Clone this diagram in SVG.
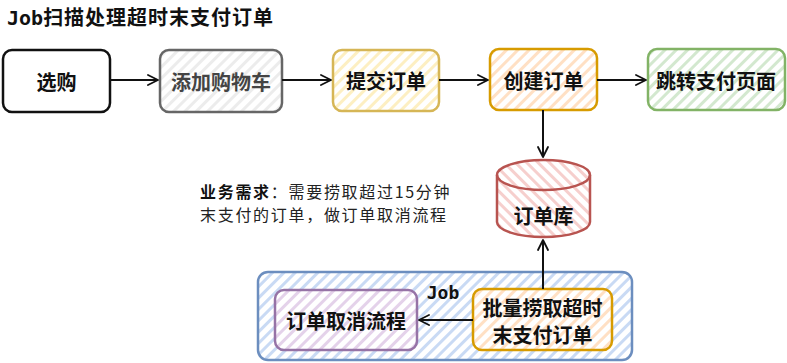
<svg xmlns="http://www.w3.org/2000/svg" width="787" height="363" viewBox="0 0 787 363">
<style>
.t{font-family:"Noto Sans CJK SC","Noto Sans",sans-serif;font-weight:bold;font-size:20px;fill:#111;text-anchor:middle;dominant-baseline:central}
.m{font-family:"DejaVu Sans Mono","Liberation Mono",monospace;font-weight:bold}
.d{font-family:"Noto Sans CJK SC","Noto Sans",sans-serif;font-size:16px;letter-spacing:1.7px;fill:#222}
.box{stroke-width:2.5;stroke-linejoin:round}
.c{fill:none;stroke:#111;stroke-width:2}
</style>
<defs>
<pattern id="hg" width="8" height="8" patternUnits="userSpaceOnUse" patternTransform="rotate(45)"><rect width="3" height="8" fill="#ececec"/></pattern>
<pattern id="hy" width="8" height="8" patternUnits="userSpaceOnUse" patternTransform="rotate(45)"><rect width="3" height="8" fill="#fdefc2"/></pattern>
<pattern id="ho" width="8" height="8" patternUnits="userSpaceOnUse" patternTransform="rotate(45)"><rect width="3" height="8" fill="#ffe0c4"/></pattern>
<pattern id="hgr" width="8" height="8" patternUnits="userSpaceOnUse" patternTransform="rotate(45)"><rect width="3" height="8" fill="#d3e8cf"/></pattern>
<pattern id="hr" width="8" height="8" patternUnits="userSpaceOnUse" patternTransform="rotate(-45)"><rect width="3" height="8" fill="#f6cfcd"/></pattern>
<pattern id="hb" width="8" height="8" patternUnits="userSpaceOnUse" patternTransform="rotate(45)"><rect width="3" height="8" fill="#c9daf4"/></pattern>
<pattern id="hp" width="8" height="8" patternUnits="userSpaceOnUse" patternTransform="rotate(45)"><rect width="3" height="8" fill="#e4d2ea"/></pattern>
<marker id="arr" viewBox="0 0 12 12" refX="11" refY="6" markerWidth="12" markerHeight="12" markerUnits="userSpaceOnUse" orient="auto"><path d="M1,1 L11,6 L1,11" fill="none" stroke="#111" stroke-width="1.8" stroke-linecap="round" stroke-linejoin="round"/></marker>
</defs>
<rect width="787" height="363" fill="#fff"/>
<text x="7" y="25" font-size="20" fill="#111"><tspan class="m">Job</tspan><tspan font-family="Noto Sans CJK SC,sans-serif" font-weight="bold" letter-spacing="1">扫描处理超时末支付订单</tspan></text>

<g id="job">
<rect class="box" x="258" y="272" width="374" height="88" rx="10" fill="url(#hb)" stroke="#6c8ebf"/>
<text class="m" x="443" y="292" font-size="18" fill="#111" text-anchor="middle" dominant-baseline="central">Job</text>
</g>

<g id="n1"><rect class="box" x="3" y="50" width="107" height="62" rx="9" fill="#fff" stroke="#111"/><text class="t" x="56.5" y="81">选购</text></g>
<g id="n2"><rect class="box" x="160" y="50" width="122" height="62" rx="9" fill="url(#hg)" stroke="#666"/><text class="t" x="221" y="81" style="fill:#444">添加购物车</text></g>
<g id="n3"><rect class="box" x="333" y="50" width="106" height="61" rx="9" fill="url(#hy)" stroke="#d6b656"/><text class="t" x="386" y="80">提交订单</text></g>
<g id="n4"><rect class="box" x="490" y="49" width="107" height="61" rx="9" fill="url(#ho)" stroke="#d79b00"/><text class="t" x="543.5" y="80">创建订单</text></g>
<g id="n5"><rect class="box" x="648" y="49" width="137" height="61" rx="9" fill="url(#hgr)" stroke="#82b366"/><text class="t" x="716" y="80">跳转支付页面</text></g>

<g id="db">
<path class="box" d="M497,175 A46.5,15 0 0 1 590,175 V222 A46.5,15 0 0 1 497,222 Z" fill="url(#hr)" stroke="#b85450"/>
<path d="M497,175 A46.5,15 0 0 0 590,175" fill="none" stroke="#b85450" stroke-width="2.5"/>
<text class="t" x="543.5" y="215">订单库</text>
</g>

<g id="n6"><rect class="box" x="473" y="289" width="139" height="61" rx="9" fill="#fff" stroke="none"/><rect class="box" x="473" y="289" width="139" height="61" rx="9" fill="url(#ho)" stroke="#d79b00"/><text class="t" x="542.5" y="307"><tspan x="542.5">批量捞取超时</tspan><tspan x="542.5" dy="27">末支付订单</tspan></text></g>
<g id="n7"><rect class="box" x="275" y="290" width="142" height="60" rx="9" fill="#fff" stroke="none"/><rect class="box" x="275" y="290" width="142" height="60" rx="9" fill="url(#hp)" stroke="#9673a6"/><text class="t" x="346" y="320">订单取消流程</text></g>

<g id="note">
<text class="d" x="200" y="198"><tspan font-weight="bold" fill="#111">业务需求</tspan>：需要捞取超过15分钟</text>
<text class="d" x="200" y="221">末支付的订单，做订单取消流程</text>
</g>

<g id="connectors">
<path class="c" d="M110,80 L158,80" marker-end="url(#arr)"/>
<path class="c" d="M282,80 L331,80" marker-end="url(#arr)"/>
<path class="c" d="M439,80 L488,80" marker-end="url(#arr)"/>
<path class="c" d="M597,80 L646,80" marker-end="url(#arr)"/>
<path class="c" d="M543,110 L543,157" marker-end="url(#arr)"/>
<path class="c" d="M543,289 L543,240" marker-end="url(#arr)"/>
<path class="c" d="M473,320 L419,320" marker-end="url(#arr)"/>
</g>
</svg>
